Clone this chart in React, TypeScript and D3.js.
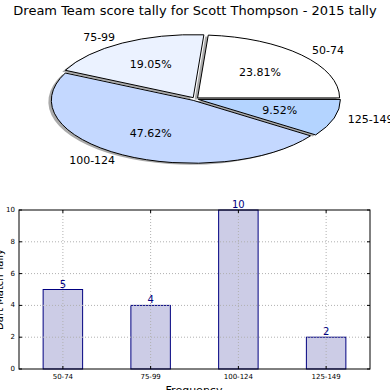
import React from 'react';
import * as d3 from 'd3';

// score bands and how often each was hit
const categories = ['50-74', '75-99', '100-124', '125-149'];
const counts = [5, 4, 10, 2];
const sliceColors = ['#ffffff', '#ebf2ff', '#c4d8ff', '#b4d4ff'];
const yTicks = [0, 2, 4, 6, 8, 10];

const FONT = 'DejaVu Sans, sans-serif';

export default function App() {
  // ── pie (elliptical, matplotlib style) ──
  const cx = 195, cy = 99, rx = 142, ry = 63;
  const explode = 0.025;
  const total = d3.sum(counts);
  const pie = d3.pie<number>().sort(null).startAngle(Math.PI / 2).endAngle(Math.PI / 2 - 2 * Math.PI);
  const arcs = pie(counts);
  const unitArc = d3.arc<d3.PieArcDatum<number>>().innerRadius(0).outerRadius(1);

  const slices = arcs.map((a, i) => {
    const mid = (a.startAngle + a.endAngle) / 2;
    const ux = Math.sin(mid), uy = -Math.cos(mid);
    return {
      d: unitArc(a) || '',
      ox: cx + explode * rx * ux,
      oy: cy + explode * ry * uy,
      ux, uy,
      pct: ((counts[i] / total) * 100).toFixed(2) + '%',
      label: categories[i],
      color: sliceColors[i],
    };
  });

  // ── bar chart ──
  const m = { left: 19, right: 370, top: 210, bottom: 369 };
  const x = d3.scaleLinear().domain([-0.5, 3.5]).range([m.left, m.right]);
  const y = d3.scaleLinear().domain([0, 10]).range([m.bottom, m.top]);
  const barW = x(0.45) - x(0);

  return (
    <svg width={390} height={390} style={{ position: 'absolute', left: 0, top: 0 }} fontFamily={FONT}>
      <rect width={390} height={390} fill="#fff" />
      <text x={195} y={15} textAnchor="middle" fontSize={13}>
        Dream Team score tally for Scott Thompson - 2015 tally
      </text>

      {/* shadows */}
      {slices.map((s, i) => (
        <path key={'sh' + i} d={s.d}
          transform={`translate(${s.ox - 3},${s.oy + 1.5}) scale(${rx},${ry})`}
          fill="#555" fillOpacity={0.5} />
      ))}
      {slices.map((s, i) => (
        <path key={'sl' + i} d={s.d}
          transform={`translate(${s.ox},${s.oy}) scale(${rx},${ry})`}
          fill={s.color} stroke="#000" strokeWidth={1} vectorEffect="non-scaling-stroke" strokeLinejoin="round" />
      ))}
      {slices.map((s, i) => (
        <text key={'pc' + i} x={s.ox + 0.6 * rx * s.ux} y={s.oy + 0.6 * ry * s.uy}
          textAnchor="middle" dominantBaseline="central" fontSize={11}>{s.pct}</text>
      ))}
      {slices.map((s, i) => (
        <text key={'lb' + i} x={s.ox + 1.1 * rx * s.ux} y={s.oy + 1.1 * ry * s.uy}
          textAnchor={s.ux > 0 ? 'start' : 'end'} dominantBaseline="central" fontSize={11}>{s.label}</text>
      ))}

      {/* bars */}
      <rect x={m.left} y={m.top} width={m.right - m.left} height={m.bottom - m.top} fill="#fff" />
      {counts.map((v, i) => (
        <rect key={'b' + i} x={x(i) - barW / 2} y={y(v)} width={barW} height={y(0) - y(v)}
          fill="#ccccE6" stroke="#000080" strokeWidth={1} />
      ))}
      {/* grid */}
      {yTicks.slice(1, -1).map(t => (
        <line key={'gy' + t} x1={m.left} x2={m.right} y1={y(t)} y2={y(t)}
          stroke="#b0b0b0" strokeWidth={1} strokeDasharray="1,2" />
      ))}
      {categories.map((c, i) => (
        <line key={'gx' + c} x1={x(i)} x2={x(i)} y1={m.top} y2={m.bottom}
          stroke="#b0b0b0" strokeWidth={1} strokeDasharray="1,2" />
      ))}
      {/* ticks */}
      {yTicks.map(t => (
        <g key={'ty' + t}>
          <line x1={m.left} x2={m.left + 3} y1={y(t)} y2={y(t)} stroke="#000" />
          <line x1={m.right - 3} x2={m.right} y1={y(t)} y2={y(t)} stroke="#000" />
          <text x={m.left - 4} y={y(t)} textAnchor="end" dominantBaseline="central" fontSize={7}>{t}</text>
        </g>
      ))}
      {categories.map((c, i) => (
        <g key={'tx' + c}>
          <line x1={x(i)} x2={x(i)} y1={m.bottom} y2={m.bottom - 3} stroke="#000" />
          <line x1={x(i)} x2={x(i)} y1={m.top} y2={m.top + 3} stroke="#000" />
          <text x={x(i)} y={m.bottom + 10} textAnchor="middle" fontSize={7}>{c}</text>
        </g>
      ))}
      <rect x={m.left} y={m.top} width={m.right - m.left} height={m.bottom - m.top}
        fill="none" stroke="#000" strokeWidth={1} />
      {counts.map((v, i) => (
        <text key={'v' + i} x={x(i)} y={y(v) - 2} textAnchor="middle" fontSize={10} fill="#000080">{v}</text>
      ))}
      <text x={194} y={394} textAnchor="middle" fontSize={11}>Frequency</text>
      <text transform={`translate(3,${(m.top + m.bottom) / 2}) rotate(-90)`} textAnchor="middle" fontSize={10}>Dart Match Tally</text>
    </svg>
  );
}
